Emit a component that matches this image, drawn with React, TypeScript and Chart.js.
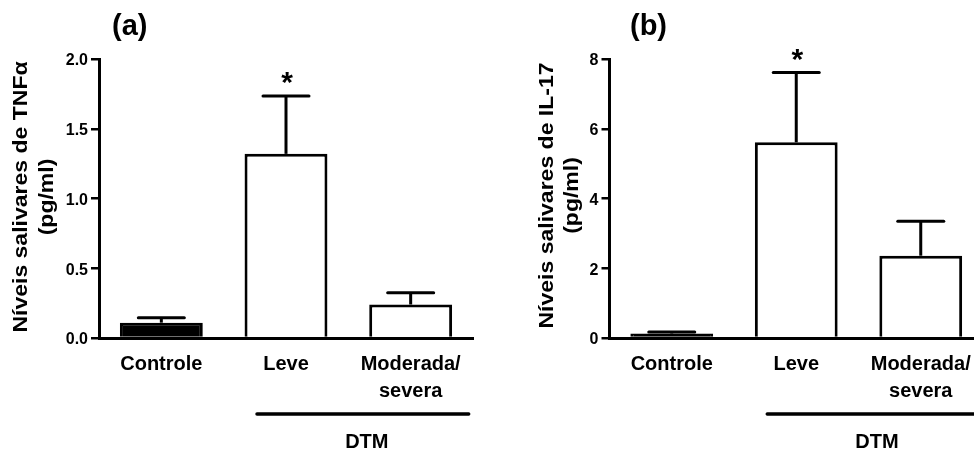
import React, { useEffect, useRef } from 'react';
import { Chart, registerables } from 'chart.js';

Chart.register(...registerables);

// ---- data ----
const categories: (string | string[])[] = ['Controle', 'Leve', ['Moderada/', 'severa']];
const barFills = ['#000000', '#ffffff', '#ffffff'];
const significance = ['', '*', ''];
const groupLabel = 'DTM';

const tnfMeans = [0.11, 1.32, 0.24];
const tnfSem = [0.035, 0.415, 0.085];
const tnfTicks = [0, 0.5, 1.0, 1.5, 2.0];
const tnfTitle = ['Níveis salivares de TNFα', '(pg/ml)'];

const il17Means = [0.13, 5.61, 2.36];
const il17Sem = [0.04, 2.0, 0.99];
const il17Ticks = [0, 2, 4, 6, 8];
const il17Title = ['Níveis salivares de IL-17', '(pg/ml)'];

const FONT = '"Liberation Sans", Arial, Helvetica, sans-serif';

type PanelSpec = {
  letter: string;
  means: number[];
  sem: number[];
  ticks: number[];
  decimals: number;
  title: string[];
  width: number;
  axisLeft: number;
  padRight: number;
  letterX: number;
  titleX: [number, number];
  titleY: number;
};

const panelA: PanelSpec = {
  letter: '(a)',
  means: tnfMeans,
  sem: tnfSem,
  ticks: tnfTicks,
  decimals: 1,
  title: tnfTitle,
  width: 487,
  axisLeft: 99,
  padRight: 14,
  letterX: 112,
  titleX: [27.3, 53.2],
  titleY: 197,
};

const panelB: PanelSpec = {
  letter: '(b)',
  means: il17Means,
  sem: il17Sem,
  ticks: il17Ticks,
  decimals: 0,
  title: il17Title,
  width: 510,
  axisLeft: 122.5,
  padRight: 14,
  letterX: 143,
  titleX: [66.3, 91],
  titleY: 195.5,
};

const HEIGHT = 454;

function makePlugin(p: PanelSpec) {
  return {
    id: 'annot',
    afterDatasetsDraw(chart: any) {
      const ctx = chart.ctx as CanvasRenderingContext2D;
      const ys = chart.scales.y;
      const meta = chart.getDatasetMeta(0);
      ctx.save();
      ctx.strokeStyle = '#000';
      ctx.fillStyle = '#000';
      meta.data.forEach((el: any, i: number) => {
        const top = ys.getPixelForValue(p.means[i] + p.sem[i]);
        const bx = el.x;
        const by = el.y;
        ctx.lineWidth = 3;
        ctx.lineCap = 'butt';
        ctx.beginPath();
        ctx.moveTo(bx, by);
        ctx.lineTo(bx, top);
        ctx.stroke();
        ctx.lineCap = 'round';
        ctx.beginPath();
        ctx.moveTo(bx - 23, top);
        ctx.lineTo(bx + 23, top);
        ctx.stroke();
        if (significance[i]) {
          const fs = 30;
          ctx.font = `bold ${fs}px ${FONT}`;
          ctx.textAlign = 'center';
          ctx.textBaseline = 'alphabetic';
          ctx.fillText(significance[i], bx + 1, top - 21 + 0.58 * fs);
        }
      });
      ctx.restore();
    },
    afterDraw(chart: any) {
      const ctx = chart.ctx as CanvasRenderingContext2D;
      const xs = chart.scales.x;
      ctx.save();
      ctx.fillStyle = '#000';
      ctx.strokeStyle = '#000';
      // panel letter
      ctx.font = `bold 29px ${FONT}`;
      ctx.textAlign = 'left';
      ctx.textBaseline = 'alphabetic';
      ctx.fillText(p.letter, p.letterX, 35);
      // y axis title (rotated, stretched)
      ctx.font = `bold 19.5px ${FONT}`;
      p.title.forEach((line, k) => {
        ctx.save();
        ctx.translate(p.titleX[k], p.titleY);
        ctx.rotate(-Math.PI / 2);
        ctx.scale(1.18, 1);
        ctx.textAlign = 'center';
        ctx.textBaseline = 'alphabetic';
        ctx.fillText(line, 0, 0);
        ctx.restore();
      });
      // group bracket
      const x1 = xs.getPixelForValue(1) - 29;
      const x2 = xs.getPixelForValue(2) + 58;
      ctx.lineWidth = 3.5;
      ctx.lineCap = 'round';
      ctx.beginPath();
      ctx.moveTo(x1, 414);
      ctx.lineTo(x2, 414);
      ctx.stroke();
      ctx.font = `bold 20px ${FONT}`;
      ctx.textAlign = 'center';
      ctx.fillText(groupLabel, (x1 + x2) / 2 + 4, 448);
      ctx.restore();
    },
  };
}

function makeChart(canvas: HTMLCanvasElement, p: PanelSpec) {
  const axisBottom = 338;
  return new Chart(canvas, {
    type: 'bar',
    data: {
      labels: categories as any,
      datasets: [
        {
          data: p.means,
          backgroundColor: barFills,
          borderColor: '#000',
          borderWidth: 3,
          borderSkipped: 'start',
          barPercentage: 0.665,
          categoryPercentage: 1,
        },
      ],
    },
    options: {
      responsive: false,
      animation: false,
      events: [],
      layout: { padding: { left: 0, right: p.padRight, top: 59, bottom: 0 } },
      plugins: { legend: { display: false }, tooltip: { enabled: false }, title: { display: false } },
      scales: {
        x: {
          grid: { display: false, drawTicks: false },
          border: { display: true, width: 3, color: '#000' },
          ticks: {
            color: '#000',
            padding: 13.3,
            maxRotation: 0,
            autoSkip: false,
            font: { family: FONT, size: 20, weight: 'bold', lineHeight: 1.325 },
          },
          afterFit: (s: any) => {
            s.height = HEIGHT - axisBottom;
          },
        },
        y: {
          min: p.ticks[0],
          max: p.ticks[p.ticks.length - 1],
          grid: { drawOnChartArea: false, drawTicks: true, tickLength: 8, lineWidth: 2.5, color: '#000' },
          border: { display: true, width: 3, color: '#000' },
          ticks: {
            color: '#000',
            padding: 3,
            labelOffset: 2,
            font: { family: FONT, size: 16, weight: 'bold' },
            callback: (v: any) => Number(v).toFixed(p.decimals),
          },
          afterBuildTicks: (s: any) => {
            s.ticks = p.ticks.map((v) => ({ value: v }));
          },
          afterFit: (s: any) => {
            s.width = p.axisLeft;
          },
        },
      },
    },
    plugins: [makePlugin(p)],
  } as any);
}

export default function App() {
  const refA = useRef<HTMLCanvasElement>(null);
  const refB = useRef<HTMLCanvasElement>(null);
  useEffect(() => {
    const a = makeChart(refA.current!, panelA);
    const b = makeChart(refB.current!, panelB);
    return () => {
      a.destroy();
      b.destroy();
    };
  }, []);
  return (
    <div
      style={{
        position: 'fixed',
        left: 0,
        top: 0,
        width: 974,
        height: HEIGHT,
        overflow: 'hidden',
        background: '#fff',
      }}
    >
      <canvas
        ref={refA}
        width={panelA.width}
        height={HEIGHT}
        style={{ position: 'absolute', left: 0, top: 0, width: panelA.width, height: HEIGHT }}
      />
      <canvas
        ref={refB}
        width={panelB.width}
        height={HEIGHT}
        style={{ position: 'absolute', left: 487, top: 0, width: panelB.width, height: HEIGHT }}
      />
    </div>
  );
}
